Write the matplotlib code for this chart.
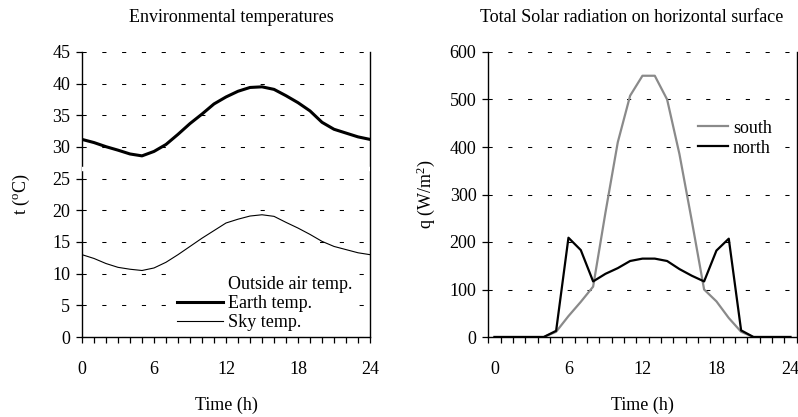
import numpy as np
import matplotlib
matplotlib.use("Agg")
import matplotlib.pyplot as plt
from matplotlib.ticker import FixedLocator, NullFormatter

plt.rcParams['font.family'] = ['Liberation Serif', 'DejaVu Serif']
plt.rcParams['mathtext.fontset'] = 'custom'
plt.rcParams['mathtext.rm'] = 'Liberation Serif'
plt.rcParams['mathtext.it'] = 'Liberation Serif:italic'

# ---------------- data ----------------
hours = list(range(25))
earth_temp = [31.2, 30.7, 30.05, 29.5, 28.9, 28.6, 29.3, 30.4, 32.0, 33.7, 35.2, 36.8, 37.9,
              38.8, 39.4, 39.5, 39.1, 38.1, 37.0, 35.7, 33.9, 32.8, 32.2, 31.6, 31.2]
sky_temp = [13.0, 12.4, 11.6, 11.0, 10.7, 10.5, 10.9, 11.8, 13.0, 14.3, 15.6, 16.8, 18.0,
            18.6, 19.1, 19.3, 19.05, 18.1, 17.2, 16.2, 15.1, 14.3, 13.8, 13.3, 13.0]
air_hours = [0, 24]
air_temp = [26.6, 26.6]

south = [0, 0, 0, 0, 0, 11, 44, 74, 106, 262, 410, 508, 550,
         550, 500, 385, 245, 100, 75, 40, 11, 0, 0, 0, 0]
north = [0, 0, 0, 0, 0, 13, 209, 183, 117, 133, 145, 160, 165,
         165, 160, 143, 129, 117, 182, 207, 14, 0, 0, 0, 0]

left_title = "Environmental temperatures"
right_title = "Total Solar radiation on horizontal surface"
xticks_major = [0, 6, 12, 18, 24]
left_yticks = list(range(0, 46, 5))
right_yticks = list(range(0, 601, 100))

W, H = 798, 417
fig = plt.figure(figsize=(W / 100, H / 100), dpi=100)

def fx(px):
    return px / W

def fy(py):
    return 1 - py / H

top_px, bot_px = 52, 337
axL = fig.add_axes([fx(82), fy(bot_px), fx(370) - fx(82), fy(top_px) - fy(bot_px)])
axR = fig.add_axes([fx(488.3), fy(bot_px), fx(796.6) - fx(488.3), fy(top_px) - fy(bot_px)])

FS = 13
grid_kw = dict(color='black', linewidth=0.75, linestyle=(0, (4, 15)))

for ax in (axL, axR):
    ax.spines['top'].set_visible(False)
    for s in ('left', 'right', 'bottom'):
        ax.spines[s].set_linewidth(1.0)
    ax.tick_params(axis='both', which='both', direction='out', length=4.5, width=0.9,
                   labelsize=FS, color='black')
    ax.tick_params(axis='y', pad=4, right=False)
    ax.tick_params(axis='x', pad=13)
    ax.yaxis.grid(True, **grid_kw)
    ax.set_axisbelow(True)

# ---------------- left chart ----------------
axL.plot(air_hours, air_temp, color='white', linewidth=3.2, label='Outside air temp.',
         clip_on=False, zorder=3, solid_capstyle='butt')
axL.plot(hours, earth_temp, color='black', linewidth=2.2, label='Earth temp.', zorder=4)
axL.plot(hours, sky_temp, color='black', linewidth=0.8, label='Sky temp.', zorder=4)
axL.set_xlim(0, 24)
axL.set_ylim(0, 45)
axL.set_yticks(left_yticks)
axL.set_xticks(xticks_major)
axL.xaxis.set_minor_locator(FixedLocator(hours))
axL.set_ylabel('t ($^{\\mathrm{o}}$C)', fontsize=FS)
axL.yaxis.set_label_coords((32 - 82) / 288, 0.5)
axL.set_xlabel('Time (h)', fontsize=FS)
axL.xaxis.set_label_coords(0.5, (337 - 405) / 285)
axL.xaxis.label.set_va('center')

legL = axL.legend(loc='lower left', bbox_to_anchor=((173 - 82) / 288, 0.008),
                  frameon=True, fontsize=FS, handlelength=2.56, handletextpad=0.28,
                  labelspacing=0.12, borderpad=0.2, borderaxespad=0)
legL.get_frame().set_edgecolor('none')
legL.get_frame().set_facecolor('white')
legL.get_frame().set_alpha(1)
legL.set_zorder(5)

# ---------------- right chart ----------------
axR.plot(hours, south, color='#8a8a8a', linewidth=1.6, label='south', zorder=3)
axR.plot(hours, north, color='black', linewidth=1.6, label='north', zorder=4)
axR.set_xlim(-0.5, 24.5)
axR.set_ylim(0, 600)
axR.set_yticks(right_yticks)
axR.set_xticks(xticks_major)
axR.tick_params(axis='x', which='major', length=0, pad=13 + 4.5)
axR.xaxis.set_minor_locator(FixedLocator(np.arange(-0.5, 25, 1)))
axR.xaxis.set_minor_formatter(NullFormatter())
axR.set_ylabel('q (W/m$^{2}$)', fontsize=FS)
axR.yaxis.set_label_coords((437 - 488.3) / 308.3, 0.5)
axR.set_xlabel('Time (h)', fontsize=FS)
axR.xaxis.set_label_coords((642.5 - 488.3) / 308.3, (337 - 405) / 285)
axR.xaxis.label.set_va('center')

legR = axR.legend(loc='upper left', bbox_to_anchor=((694 - 488.3) / 308.3, (337 - 116) / 285),
                  frameon=True, fontsize=FS, handlelength=1.68, handletextpad=0.28,
                  labelspacing=0.17, borderpad=0.2, borderaxespad=0)
legR.get_frame().set_edgecolor('none')
legR.get_frame().set_facecolor('white')
legR.get_frame().set_alpha(1)
legR.set_zorder(5)

fig.text(fx(231), fy(17), left_title, ha='center', va='center', fontsize=FS)
fig.text(fx(631.7), fy(17), right_title, ha='center', va='center', fontsize=FS)

fig.savefig('out.png', dpi=100)
